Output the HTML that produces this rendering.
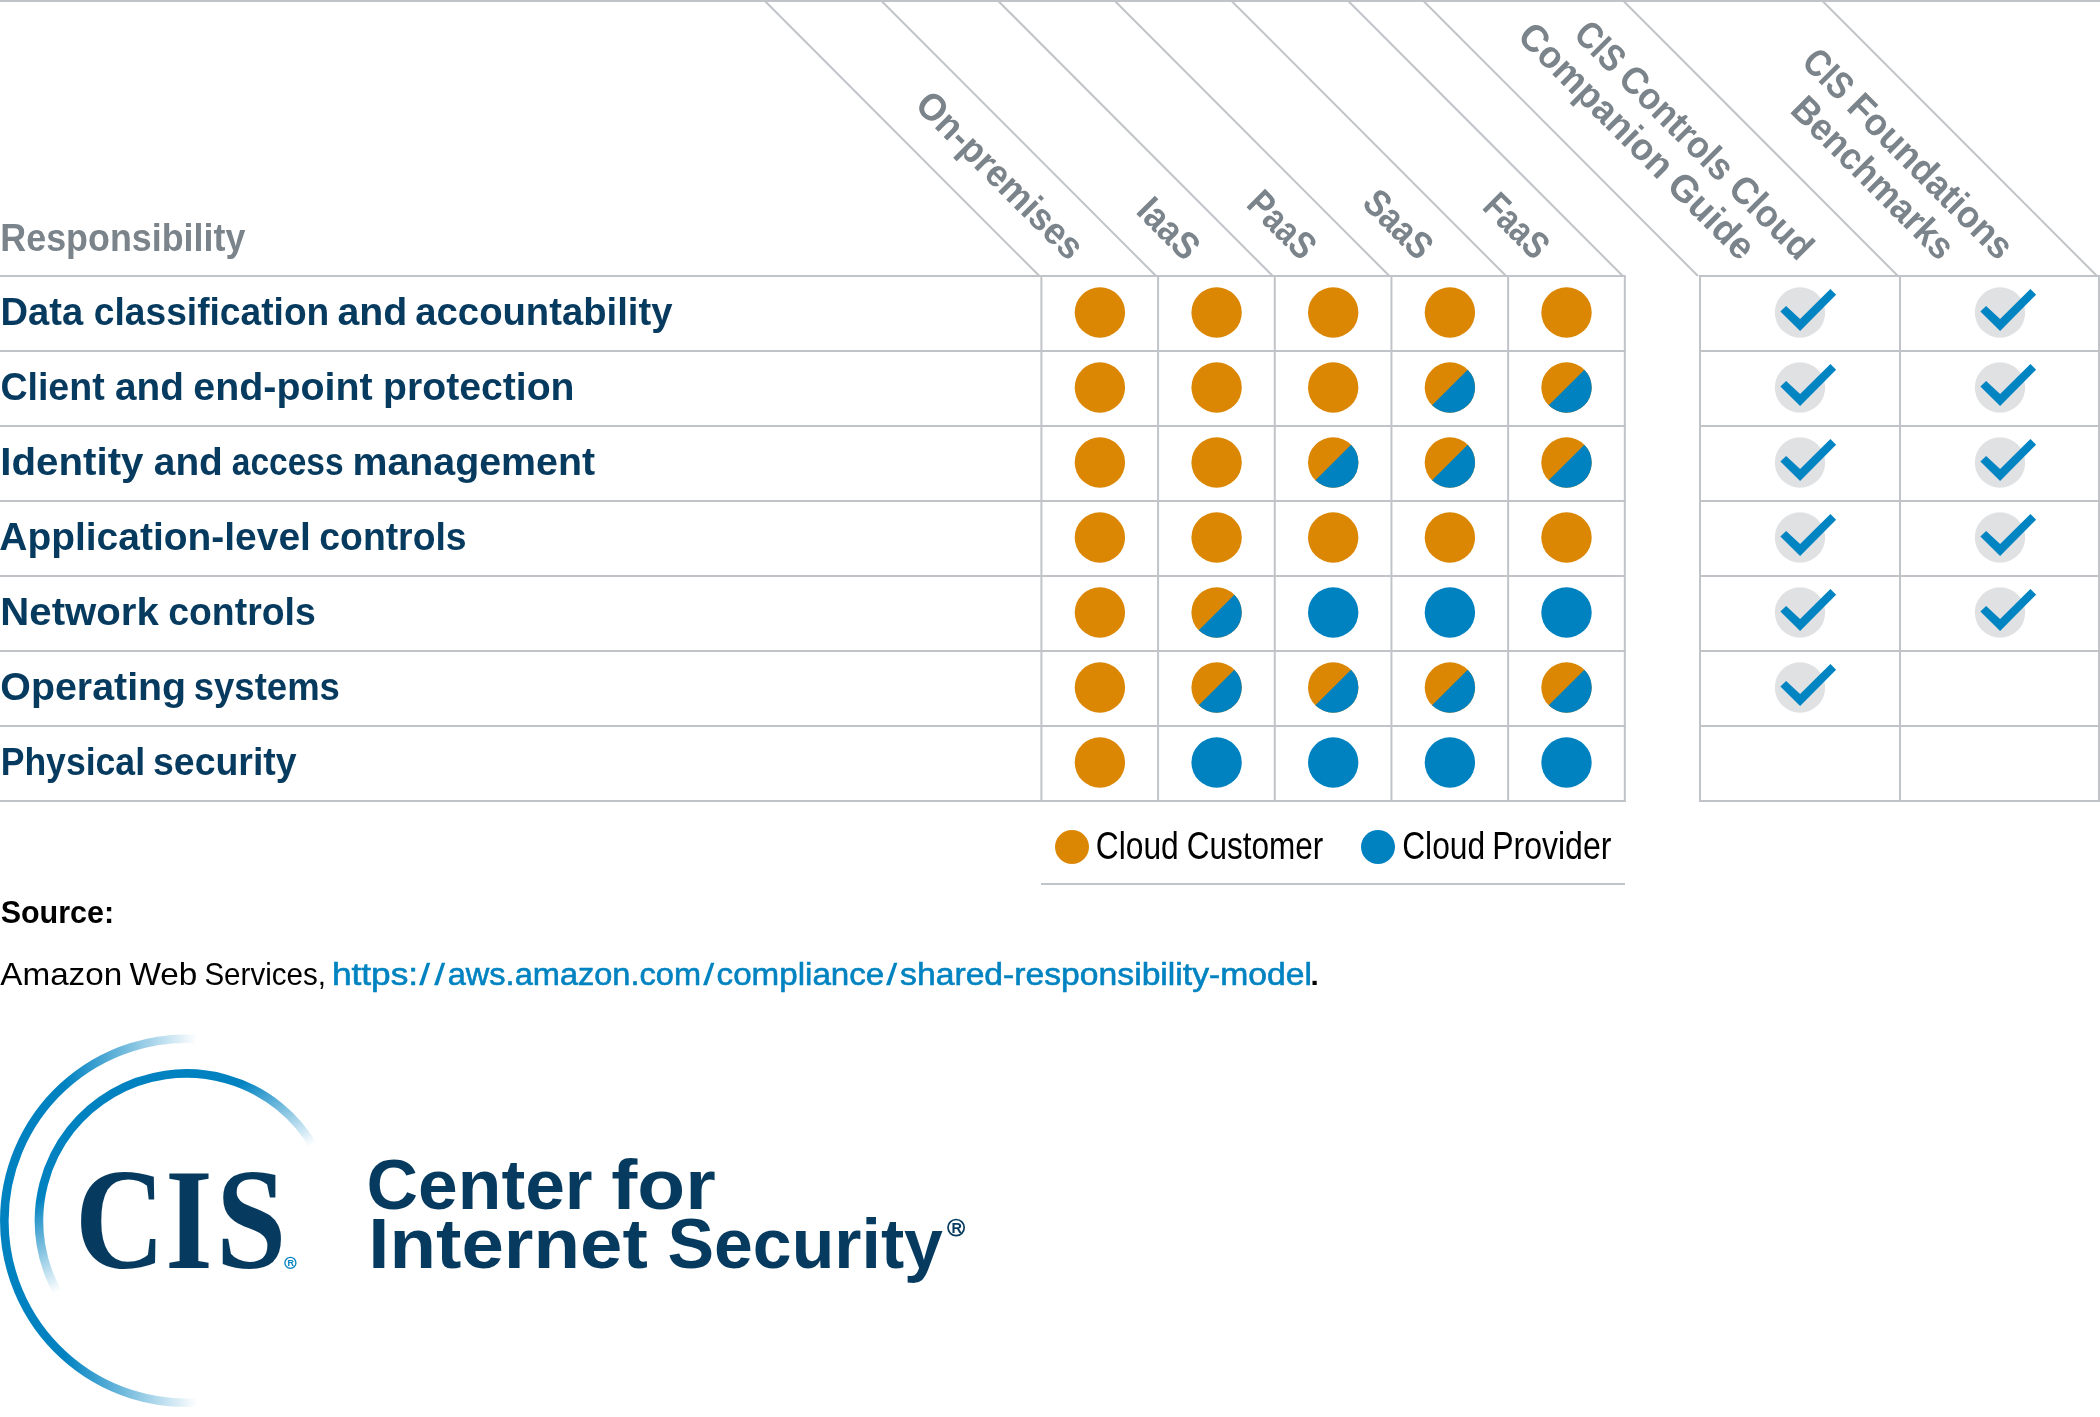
<!DOCTYPE html>
<html><head><meta charset="utf-8"><style>
html,body{margin:0;padding:0;background:#fff;}
body{width:2100px;height:1417px;overflow:hidden;position:relative;}
svg{position:absolute;left:0;top:0;display:block;will-change:transform;}
</style></head><body>
<svg width="2100" height="1417" viewBox="0 0 2100 1417">
<line x1="0.00" y1="1.00" x2="2100.00" y2="1.00" stroke="#c0c4c8" stroke-width="2"/>
<line x1="0.00" y1="276.00" x2="1625.80" y2="276.00" stroke="#c0c4c8" stroke-width="2"/>
<line x1="1699.00" y1="276.00" x2="2100.00" y2="276.00" stroke="#c0c4c8" stroke-width="2"/>
<line x1="0.00" y1="351.00" x2="1625.80" y2="351.00" stroke="#c0c4c8" stroke-width="2"/>
<line x1="1699.00" y1="351.00" x2="2100.00" y2="351.00" stroke="#c0c4c8" stroke-width="2"/>
<line x1="0.00" y1="426.00" x2="1625.80" y2="426.00" stroke="#c0c4c8" stroke-width="2"/>
<line x1="1699.00" y1="426.00" x2="2100.00" y2="426.00" stroke="#c0c4c8" stroke-width="2"/>
<line x1="0.00" y1="501.00" x2="1625.80" y2="501.00" stroke="#c0c4c8" stroke-width="2"/>
<line x1="1699.00" y1="501.00" x2="2100.00" y2="501.00" stroke="#c0c4c8" stroke-width="2"/>
<line x1="0.00" y1="576.00" x2="1625.80" y2="576.00" stroke="#c0c4c8" stroke-width="2"/>
<line x1="1699.00" y1="576.00" x2="2100.00" y2="576.00" stroke="#c0c4c8" stroke-width="2"/>
<line x1="0.00" y1="651.00" x2="1625.80" y2="651.00" stroke="#c0c4c8" stroke-width="2"/>
<line x1="1699.00" y1="651.00" x2="2100.00" y2="651.00" stroke="#c0c4c8" stroke-width="2"/>
<line x1="0.00" y1="726.00" x2="1625.80" y2="726.00" stroke="#c0c4c8" stroke-width="2"/>
<line x1="1699.00" y1="726.00" x2="2100.00" y2="726.00" stroke="#c0c4c8" stroke-width="2"/>
<line x1="0.00" y1="801.00" x2="1625.80" y2="801.00" stroke="#c0c4c8" stroke-width="2"/>
<line x1="1699.00" y1="801.00" x2="2100.00" y2="801.00" stroke="#c0c4c8" stroke-width="2"/>
<line x1="1041.40" y1="276.00" x2="1041.40" y2="802.00" stroke="#c0c4c8" stroke-width="2"/>
<line x1="1158.08" y1="276.00" x2="1158.08" y2="802.00" stroke="#c0c4c8" stroke-width="2"/>
<line x1="1274.76" y1="276.00" x2="1274.76" y2="802.00" stroke="#c0c4c8" stroke-width="2"/>
<line x1="1391.44" y1="276.00" x2="1391.44" y2="802.00" stroke="#c0c4c8" stroke-width="2"/>
<line x1="1508.12" y1="276.00" x2="1508.12" y2="802.00" stroke="#c0c4c8" stroke-width="2"/>
<line x1="1624.80" y1="276.00" x2="1624.80" y2="802.00" stroke="#c0c4c8" stroke-width="2"/>
<line x1="1700.00" y1="276.00" x2="1700.00" y2="802.00" stroke="#c0c4c8" stroke-width="2"/>
<line x1="1900.00" y1="276.00" x2="1900.00" y2="802.00" stroke="#c0c4c8" stroke-width="2"/>
<line x1="2099.00" y1="276.00" x2="2099.00" y2="802.00" stroke="#c0c4c8" stroke-width="2"/>
<line x1="763.90" y1="0.00" x2="1039.40" y2="276.00" stroke="#c0c4c8" stroke-width="2"/>
<line x1="880.58" y1="0.00" x2="1156.08" y2="276.00" stroke="#c0c4c8" stroke-width="2"/>
<line x1="997.26" y1="0.00" x2="1272.76" y2="276.00" stroke="#c0c4c8" stroke-width="2"/>
<line x1="1113.94" y1="0.00" x2="1389.44" y2="276.00" stroke="#c0c4c8" stroke-width="2"/>
<line x1="1230.62" y1="0.00" x2="1506.12" y2="276.00" stroke="#c0c4c8" stroke-width="2"/>
<line x1="1347.30" y1="0.00" x2="1622.80" y2="276.00" stroke="#c0c4c8" stroke-width="2"/>
<line x1="1422.50" y1="0.00" x2="1698.00" y2="276.00" stroke="#c0c4c8" stroke-width="2"/>
<line x1="1622.50" y1="0.00" x2="1898.00" y2="276.00" stroke="#c0c4c8" stroke-width="2"/>
<line x1="1821.50" y1="0.00" x2="2097.00" y2="276.00" stroke="#c0c4c8" stroke-width="2"/>
<line x1="1041.00" y1="884.00" x2="1625.00" y2="884.00" stroke="#c0c4c8" stroke-width="2"/>
<circle cx="1099.9" cy="312.5" r="25.2" fill="#db8703"/>
<circle cx="1216.6" cy="312.5" r="25.2" fill="#db8703"/>
<circle cx="1333.2" cy="312.5" r="25.2" fill="#db8703"/>
<circle cx="1449.9" cy="312.5" r="25.2" fill="#db8703"/>
<circle cx="1566.5" cy="312.5" r="25.2" fill="#db8703"/>
<circle cx="1099.9" cy="387.5" r="25.2" fill="#db8703"/>
<circle cx="1216.6" cy="387.5" r="25.2" fill="#db8703"/>
<circle cx="1333.2" cy="387.5" r="25.2" fill="#db8703"/>
<circle cx="1449.9" cy="387.5" r="25.2" fill="#db8703"/>
<path d="M1467.70 369.68A25.2 25.2 0 0 1 1432.06 405.32Z" fill="#0082c1"/>
<circle cx="1566.5" cy="387.5" r="25.2" fill="#db8703"/>
<path d="M1584.36 369.68A25.2 25.2 0 0 1 1548.72 405.32Z" fill="#0082c1"/>
<circle cx="1099.9" cy="462.5" r="25.2" fill="#db8703"/>
<circle cx="1216.6" cy="462.5" r="25.2" fill="#db8703"/>
<circle cx="1333.2" cy="462.5" r="25.2" fill="#db8703"/>
<path d="M1351.04 444.68A25.2 25.2 0 0 1 1315.40 480.32Z" fill="#0082c1"/>
<circle cx="1449.9" cy="462.5" r="25.2" fill="#db8703"/>
<path d="M1467.70 444.68A25.2 25.2 0 0 1 1432.06 480.32Z" fill="#0082c1"/>
<circle cx="1566.5" cy="462.5" r="25.2" fill="#db8703"/>
<path d="M1584.36 444.68A25.2 25.2 0 0 1 1548.72 480.32Z" fill="#0082c1"/>
<circle cx="1099.9" cy="537.5" r="25.2" fill="#db8703"/>
<circle cx="1216.6" cy="537.5" r="25.2" fill="#db8703"/>
<circle cx="1333.2" cy="537.5" r="25.2" fill="#db8703"/>
<circle cx="1449.9" cy="537.5" r="25.2" fill="#db8703"/>
<circle cx="1566.5" cy="537.5" r="25.2" fill="#db8703"/>
<circle cx="1099.9" cy="612.5" r="25.2" fill="#db8703"/>
<circle cx="1216.6" cy="612.5" r="25.2" fill="#db8703"/>
<path d="M1234.38 594.68A25.2 25.2 0 0 1 1198.74 630.32Z" fill="#0082c1"/>
<circle cx="1333.2" cy="612.5" r="25.2" fill="#0082c1"/>
<circle cx="1449.9" cy="612.5" r="25.2" fill="#0082c1"/>
<circle cx="1566.5" cy="612.5" r="25.2" fill="#0082c1"/>
<circle cx="1099.9" cy="687.5" r="25.2" fill="#db8703"/>
<circle cx="1216.6" cy="687.5" r="25.2" fill="#db8703"/>
<path d="M1234.38 669.68A25.2 25.2 0 0 1 1198.74 705.32Z" fill="#0082c1"/>
<circle cx="1333.2" cy="687.5" r="25.2" fill="#db8703"/>
<path d="M1351.04 669.68A25.2 25.2 0 0 1 1315.40 705.32Z" fill="#0082c1"/>
<circle cx="1449.9" cy="687.5" r="25.2" fill="#db8703"/>
<path d="M1467.70 669.68A25.2 25.2 0 0 1 1432.06 705.32Z" fill="#0082c1"/>
<circle cx="1566.5" cy="687.5" r="25.2" fill="#db8703"/>
<path d="M1584.36 669.68A25.2 25.2 0 0 1 1548.72 705.32Z" fill="#0082c1"/>
<circle cx="1099.9" cy="762.5" r="25.2" fill="#db8703"/>
<circle cx="1216.6" cy="762.5" r="25.2" fill="#0082c1"/>
<circle cx="1333.2" cy="762.5" r="25.2" fill="#0082c1"/>
<circle cx="1449.9" cy="762.5" r="25.2" fill="#0082c1"/>
<circle cx="1566.5" cy="762.5" r="25.2" fill="#0082c1"/>
<circle cx="1800" cy="312.5" r="25.2" fill="#e0e1e3"/>
<polygon points="1786.1,305.9 1800.1,319.0 1830.4,288.9 1836.1,294.7 1800.1,330.9 1780.4,311.4" fill="#0084c2"/>
<circle cx="1800" cy="387.5" r="25.2" fill="#e0e1e3"/>
<polygon points="1786.1,380.9 1800.1,394.0 1830.4,363.9 1836.1,369.7 1800.1,405.9 1780.4,386.4" fill="#0084c2"/>
<circle cx="1800" cy="462.5" r="25.2" fill="#e0e1e3"/>
<polygon points="1786.1,455.9 1800.1,469.0 1830.4,438.9 1836.1,444.7 1800.1,480.9 1780.4,461.4" fill="#0084c2"/>
<circle cx="1800" cy="537.5" r="25.2" fill="#e0e1e3"/>
<polygon points="1786.1,530.9 1800.1,544.0 1830.4,513.9 1836.1,519.7 1800.1,555.9 1780.4,536.4" fill="#0084c2"/>
<circle cx="1800" cy="612.5" r="25.2" fill="#e0e1e3"/>
<polygon points="1786.1,605.9 1800.1,619.0 1830.4,588.9 1836.1,594.7 1800.1,630.9 1780.4,611.4" fill="#0084c2"/>
<circle cx="1800" cy="687.5" r="25.2" fill="#e0e1e3"/>
<polygon points="1786.1,680.9 1800.1,694.0 1830.4,663.9 1836.1,669.7 1800.1,705.9 1780.4,686.4" fill="#0084c2"/>
<circle cx="2000" cy="312.5" r="25.2" fill="#e0e1e3"/>
<polygon points="1986.1,305.9 2000.1,319.0 2030.4,288.9 2036.1,294.7 2000.1,330.9 1980.4,311.4" fill="#0084c2"/>
<circle cx="2000" cy="387.5" r="25.2" fill="#e0e1e3"/>
<polygon points="1986.1,380.9 2000.1,394.0 2030.4,363.9 2036.1,369.7 2000.1,405.9 1980.4,386.4" fill="#0084c2"/>
<circle cx="2000" cy="462.5" r="25.2" fill="#e0e1e3"/>
<polygon points="1986.1,455.9 2000.1,469.0 2030.4,438.9 2036.1,444.7 2000.1,480.9 1980.4,461.4" fill="#0084c2"/>
<circle cx="2000" cy="537.5" r="25.2" fill="#e0e1e3"/>
<polygon points="1986.1,530.9 2000.1,544.0 2030.4,513.9 2036.1,519.7 2000.1,555.9 1980.4,536.4" fill="#0084c2"/>
<circle cx="2000" cy="612.5" r="25.2" fill="#e0e1e3"/>
<polygon points="1986.1,605.9 2000.1,619.0 2030.4,588.9 2036.1,594.7 2000.1,630.9 1980.4,611.4" fill="#0084c2"/>
<circle cx="1072" cy="847" r="17" fill="#db8703"/>
<circle cx="1378" cy="847" r="17" fill="#0082c1"/>
<text x="0.37" y="251" font-family="Liberation Sans" font-weight="bold" font-size="38.5" fill="#7b848b" textLength="245.00" lengthAdjust="spacingAndGlyphs">Responsibility</text>
<text x="0.49" y="325" font-family="Liberation Sans" font-weight="bold" font-size="38" fill="#063a5f" textLength="82.71" lengthAdjust="spacingAndGlyphs">Data</text>
<text x="93.83" y="325" font-family="Liberation Sans" font-weight="bold" font-size="38" fill="#063a5f" textLength="235.45" lengthAdjust="spacingAndGlyphs">classification</text>
<text x="337.49" y="325" font-family="Liberation Sans" font-weight="bold" font-size="38" fill="#063a5f" textLength="69.85" lengthAdjust="spacingAndGlyphs">and</text>
<text x="415.33" y="325" font-family="Liberation Sans" font-weight="bold" font-size="38" fill="#063a5f" textLength="257.14" lengthAdjust="spacingAndGlyphs">accountability</text>
<text x="0.42" y="400" font-family="Liberation Sans" font-weight="bold" font-size="38" fill="#063a5f" textLength="104.27" lengthAdjust="spacingAndGlyphs">Client</text>
<text x="114.91" y="400" font-family="Liberation Sans" font-weight="bold" font-size="38" fill="#063a5f" textLength="68.90" lengthAdjust="spacingAndGlyphs">and</text>
<text x="193.25" y="400" font-family="Liberation Sans" font-weight="bold" font-size="38" fill="#063a5f" textLength="179.36" lengthAdjust="spacingAndGlyphs">end-point</text>
<text x="383.12" y="400" font-family="Liberation Sans" font-weight="bold" font-size="38" fill="#063a5f" textLength="191.39" lengthAdjust="spacingAndGlyphs">protection</text>
<text x="0.35" y="475" font-family="Liberation Sans" font-weight="bold" font-size="38" fill="#063a5f" textLength="143.15" lengthAdjust="spacingAndGlyphs">Identity</text>
<text x="153.81" y="475" font-family="Liberation Sans" font-weight="bold" font-size="38" fill="#063a5f" textLength="69.01" lengthAdjust="spacingAndGlyphs">and</text>
<text x="231.77" y="475" font-family="Liberation Sans" font-weight="bold" font-size="38" fill="#063a5f" textLength="111.83" lengthAdjust="spacingAndGlyphs">access</text>
<text x="352.41" y="475" font-family="Liberation Sans" font-weight="bold" font-size="38" fill="#063a5f" textLength="242.61" lengthAdjust="spacingAndGlyphs">management</text>
<text x="-0.72" y="550" font-family="Liberation Sans" font-weight="bold" font-size="38" fill="#063a5f" textLength="311.62" lengthAdjust="spacingAndGlyphs">Application-level</text>
<text x="319.33" y="550" font-family="Liberation Sans" font-weight="bold" font-size="38" fill="#063a5f" textLength="147.22" lengthAdjust="spacingAndGlyphs">controls</text>
<text x="0.36" y="625" font-family="Liberation Sans" font-weight="bold" font-size="38" fill="#063a5f" textLength="158.36" lengthAdjust="spacingAndGlyphs">Network</text>
<text x="168.22" y="625" font-family="Liberation Sans" font-weight="bold" font-size="38" fill="#063a5f" textLength="147.52" lengthAdjust="spacingAndGlyphs">controls</text>
<text x="0.35" y="700" font-family="Liberation Sans" font-weight="bold" font-size="38" fill="#063a5f" textLength="185.80" lengthAdjust="spacingAndGlyphs">Operating</text>
<text x="193.72" y="700" font-family="Liberation Sans" font-weight="bold" font-size="38" fill="#063a5f" textLength="146.23" lengthAdjust="spacingAndGlyphs">systems</text>
<text x="0.66" y="775" font-family="Liberation Sans" font-weight="bold" font-size="38" fill="#063a5f" textLength="144.38" lengthAdjust="spacingAndGlyphs">Physical</text>
<text x="152.99" y="775" font-family="Liberation Sans" font-weight="bold" font-size="38" fill="#063a5f" textLength="143.66" lengthAdjust="spacingAndGlyphs">security</text>
<text x="1095.79" y="859" font-family="Liberation Sans" font-weight="normal" font-size="39.5" fill="#000" textLength="82.95" lengthAdjust="spacingAndGlyphs">Cloud</text>
<text x="1186.70" y="859" font-family="Liberation Sans" font-weight="normal" font-size="39.5" fill="#000" textLength="136.67" lengthAdjust="spacingAndGlyphs">Customer</text>
<text x="1402.19" y="859" font-family="Liberation Sans" font-weight="normal" font-size="39.5" fill="#000" textLength="82.95" lengthAdjust="spacingAndGlyphs">Cloud</text>
<text x="1492.13" y="859" font-family="Liberation Sans" font-weight="normal" font-size="39.5" fill="#000" textLength="119.24" lengthAdjust="spacingAndGlyphs">Provider</text>
<text x="0.63" y="923" font-family="Liberation Sans" font-weight="bold" font-size="31.3" fill="#000" textLength="113.53" lengthAdjust="spacingAndGlyphs">Source:</text>
<text x="0.33" y="985" font-family="Liberation Sans" font-weight="normal" font-size="31.8" fill="#000" textLength="121.85" lengthAdjust="spacingAndGlyphs">Amazon</text>
<text x="129.43" y="985" font-family="Liberation Sans" font-weight="normal" font-size="31.8" fill="#000" textLength="67.85" lengthAdjust="spacingAndGlyphs">Web</text>
<text x="204.40" y="985" font-family="Liberation Sans" font-weight="normal" font-size="31.8" fill="#000" textLength="121.63" lengthAdjust="spacingAndGlyphs">Services,</text>
<text x="331.90" y="985" font-family="Liberation Sans" font-weight="normal" font-size="31.8" fill="#0083c0" stroke="#0083c0" stroke-width="0.6" textLength="86.27" lengthAdjust="spacingAndGlyphs">https:</text>
<text x="447.73" y="985" font-family="Liberation Sans" font-weight="normal" font-size="31.8" fill="#0083c0" stroke="#0083c0" stroke-width="0.6" textLength="253.31" lengthAdjust="spacingAndGlyphs">aws.amazon.com</text>
<text x="716.61" y="985" font-family="Liberation Sans" font-weight="normal" font-size="31.8" fill="#0083c0" stroke="#0083c0" stroke-width="0.6" textLength="167.69" lengthAdjust="spacingAndGlyphs">compliance</text>
<text x="900.12" y="985" font-family="Liberation Sans" font-weight="normal" font-size="31.8" fill="#0083c0" stroke="#0083c0" stroke-width="0.6" textLength="411.88" lengthAdjust="spacingAndGlyphs">shared-responsibility-model</text>
<text x="366.60" y="1209" font-family="Liberation Sans" font-weight="bold" font-size="69.8" fill="#063a5f" textLength="226.01" lengthAdjust="spacingAndGlyphs">Center</text>
<text x="611.19" y="1209" font-family="Liberation Sans" font-weight="bold" font-size="69.8" fill="#063a5f" textLength="104.48" lengthAdjust="spacingAndGlyphs">for</text>
<text x="368.30" y="1267.5" font-family="Liberation Sans" font-weight="bold" font-size="69.8" fill="#063a5f" textLength="279.56" lengthAdjust="spacingAndGlyphs">Internet</text>
<text x="667.50" y="1267.5" font-family="Liberation Sans" font-weight="bold" font-size="69.8" fill="#063a5f" textLength="275.45" lengthAdjust="spacingAndGlyphs">Security</text>
<text x="74.99" y="1267.8" font-family="Liberation Serif" font-weight="bold" font-size="145" fill="#063a5f" textLength="89.89" lengthAdjust="spacingAndGlyphs">C</text>
<text x="165.34" y="1267.8" font-family="Liberation Serif" font-weight="bold" font-size="145" fill="#063a5f" textLength="47.40" lengthAdjust="spacingAndGlyphs">I</text>
<text x="215.91" y="1267.8" font-family="Liberation Serif" font-weight="bold" font-size="145" fill="#063a5f" textLength="70.35" lengthAdjust="spacingAndGlyphs">S</text>
<text x="913.40" y="106.80" transform="rotate(45 913.40 106.80)" font-family="Liberation Sans" font-weight="bold" font-size="38" fill="#7b848b" textLength="219.46" lengthAdjust="spacingAndGlyphs">On-premises</text>
<text x="1134.86" y="212.56" transform="rotate(45 1134.86 212.56)" font-family="Liberation Sans" font-weight="bold" font-size="38" fill="#7b848b" textLength="70.36" lengthAdjust="spacingAndGlyphs">IaaS</text>
<text x="1244.94" y="205.74" transform="rotate(45 1244.94 205.74)" font-family="Liberation Sans" font-weight="bold" font-size="38" fill="#7b848b" textLength="79.25" lengthAdjust="spacingAndGlyphs">PaaS</text>
<text x="1360.78" y="204.78" transform="rotate(45 1360.78 204.78)" font-family="Liberation Sans" font-weight="bold" font-size="38" fill="#7b848b" textLength="80.77" lengthAdjust="spacingAndGlyphs">SaaS</text>
<text x="1480.89" y="208.19" transform="rotate(45 1480.89 208.19)" font-family="Liberation Sans" font-weight="bold" font-size="38" fill="#7b848b" textLength="75.15" lengthAdjust="spacingAndGlyphs">FaaS</text>
<text x="1572.35" y="36.35" transform="rotate(45 1572.35 36.35)" font-family="Liberation Sans" font-weight="bold" font-size="38" fill="#7b848b" textLength="53.83" lengthAdjust="spacingAndGlyphs">CIS</text>
<text x="1616.52" y="80.52" transform="rotate(45 1616.52 80.52)" font-family="Liberation Sans" font-weight="bold" font-size="38" fill="#7b848b" textLength="144.96" lengthAdjust="spacingAndGlyphs">Controls</text>
<text x="1726.50" y="190.50" transform="rotate(45 1726.50 190.50)" font-family="Liberation Sans" font-weight="bold" font-size="38" fill="#7b848b" textLength="101.32" lengthAdjust="spacingAndGlyphs">Cloud</text>
<text x="1515.93" y="38.13" transform="rotate(45 1515.93 38.13)" font-family="Liberation Sans" font-weight="bold" font-size="38" fill="#7b848b" textLength="201.60" lengthAdjust="spacingAndGlyphs">Companion</text>
<text x="1665.36" y="187.56" transform="rotate(45 1665.36 187.56)" font-family="Liberation Sans" font-weight="bold" font-size="38" fill="#7b848b" textLength="105.31" lengthAdjust="spacingAndGlyphs">Guide</text>
<text x="1800.34" y="63.84" transform="rotate(45 1800.34 63.84)" font-family="Liberation Sans" font-weight="bold" font-size="38" fill="#7b848b" textLength="54.20" lengthAdjust="spacingAndGlyphs">CIS</text>
<text x="1845.27" y="108.77" transform="rotate(45 1845.27 108.77)" font-family="Liberation Sans" font-weight="bold" font-size="38" fill="#7b848b" textLength="216.32" lengthAdjust="spacingAndGlyphs">Foundations</text>
<text x="1788.75" y="111.55" transform="rotate(45 1788.75 111.55)" font-family="Liberation Sans" font-weight="bold" font-size="38" fill="#7b848b" textLength="212.71" lengthAdjust="spacingAndGlyphs">Benchmarks</text>
<defs><linearGradient id="go" gradientUnits="userSpaceOnUse" x1="65" y1="0" x2="197" y2="0"><stop offset="0" stop-color="#0082c1"/><stop offset="1" stop-color="#0082c1" stop-opacity="0"/></linearGradient><linearGradient id="gi" gradientUnits="userSpaceOnUse" x1="529" y1="916.2" x2="574" y2="994.2"><stop offset="0" stop-color="#0082c1"/><stop offset="1" stop-color="#0082c1" stop-opacity="0"/></linearGradient></defs>
<path d="M202.16 1039.39A182 182 0 1 0 202.16 1402.01" fill="none" stroke="url(#go)" stroke-width="8.6"/>
<path d="M315.22 1149.24A147.4 147.4 0 1 0 59.95 1296.62" fill="none" stroke="url(#gi)" stroke-width="8.6"/>
<polygon points="419,985.2 423,985.2 430.2,962.8 426.8,962.8" fill="#0083c0"/>
<polygon points="434,985.2 438,985.2 445.2,962.8 441.8,962.8" fill="#0083c0"/>
<polygon points="703,985.2 707,985.2 714.4,962.8 711.0,962.8" fill="#0083c0"/>
<polygon points="886,985.2 890,985.2 897.4,962.8 894.0,962.8" fill="#0083c0"/>
<rect x="1312.5" y="980.8" width="4.2" height="4.2" fill="#000"/>
<circle cx="956.1" cy="1227.6" r="8.1" fill="none" stroke="#063a5f" stroke-width="1.7"/>
<text x="956.7" y="1232.6" font-family="Liberation Sans" font-weight="bold" font-size="14.5" fill="#063a5f" text-anchor="middle">R</text>
<circle cx="290.4" cy="1262.9" r="5.5" fill="none" stroke="#0082c1" stroke-width="1.3"/>
<text x="290.7" y="1265.9" font-family="Liberation Sans" font-weight="bold" font-size="9" fill="#0082c1" text-anchor="middle">R</text>
</svg>
</body></html>
